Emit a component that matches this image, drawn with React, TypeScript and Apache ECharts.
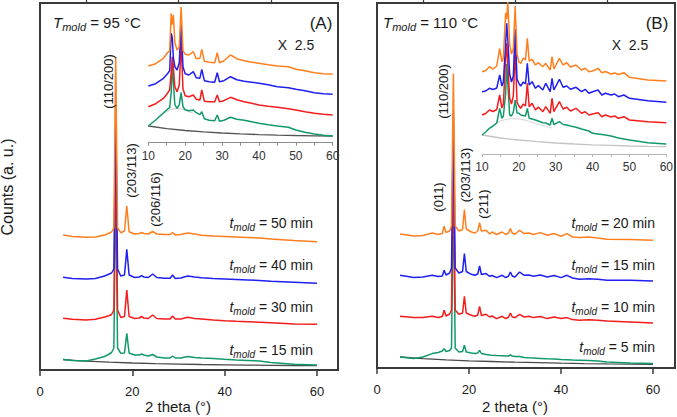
import React, { useEffect, useRef } from 'react';
import * as echarts from 'echarts';

// ---------- Panel A (T_mold = 95 °C) : main patterns ----------
const XA = [5, 7, 10, 12, 14, 15, 15.5, 16, 16.4, 16.8, 17.5, 18.3, 18.8, 19.3, 20.5, 21.5, 22, 22.5, 23.5, 24.4, 25.3, 27, 28.2, 28.7, 29.3, 30.5, 32, 33.5, 35, 37.5, 40, 42.5, 45, 47.5, 50, 55, 60];
const A_15 = [10.5, 9.5, 9, 11, 13.5, 16, 17.5, 22, 190, 22, 16.7, 17, 36.7, 17, 15, 15, 16, 15, 14, 15.5, 13, 12, 12, 14, 12, 12, 13.5, 12.5, 12, 11.5, 10.7, 10, 9.5, 9, 7.5, 5.7, 5];
const A_30 = [51.7, 50.7, 50, 50.7, 53, 54.5, 55.5, 60, 225, 60, 52.5, 53.5, 80, 53.5, 51.5, 52, 53.5, 52, 51.5, 55, 51.5, 51, 51, 54, 51, 51, 52.7, 51.5, 51, 50, 49.3, 48.7, 48.3, 47.8, 47.3, 46, 45.7];
const A_40 = [92.7, 91.5, 91, 91.5, 94, 96, 97, 101, 265, 101, 94, 95, 120.7, 95, 92.5, 93, 94.3, 93, 92.5, 96, 92.5, 91.7, 91.7, 95, 91.5, 92, 94, 93, 92.3, 91.5, 91, 90.5, 90, 89.5, 88.7, 87.7, 86.7];
const A_50 = [135, 133.5, 132.7, 133, 135, 137, 138, 142, 313, 142, 137.3, 139, 164, 138.3, 136, 136.5, 137.5, 136.5, 136, 138.5, 136, 135.5, 135.5, 137.5, 135, 135.5, 137, 136, 134.7, 134, 133.5, 133, 132.5, 132, 131, 129.5, 128.3];
const A_BASE_X = [5, 8, 10, 15, 20, 25, 30, 35, 40, 45, 50, 55, 60];
const A_BASE = [10.5, 9.3, 8.8, 7.8, 7, 6.4, 5.9, 5.5, 5.2, 4.9, 4.7, 4.5, 4.4];

// ---------- Panel A inset (X 2.5) ----------
const XIA = [10, 12, 14, 14.6, 15.2, 15.8, 16.2, 16.5, 16.8, 17.2, 17.8, 18.4, 18.9, 19.4, 20, 21, 22.2, 23, 24, 24.5, 25.2, 26.5, 28, 28.7, 29.3, 30.5, 32.3, 34, 36, 38, 40, 42.5, 45, 48, 50, 52.5, 55, 57.5, 60];
const IA_15 = [16.7, 22.7, 29.4, 31.5, 33.5, 35, 50, 80, 60, 38, 34.4, 38, 50, 36, 33, 32, 32.7, 30, 28, 31, 24, 22.5, 22, 27.7, 21.5, 22.5, 25.4, 23.5, 22.5, 21, 19.4, 18, 16.7, 15.4, 12.7, 10.5, 8.7, 7.5, 6.7];
const IA_30 = [36, 39, 44, 46.5, 49.4, 53, 70, 86, 75, 56, 51, 58, 100, 54, 47, 46, 47.7, 43.5, 42.7, 52.7, 41.5, 41, 41, 47.7, 41, 42, 45.4, 43, 41, 39.5, 37.7, 36.5, 35.4, 34, 32.7, 31, 29.4, 28.5, 27.7];
const IA_40 = [56.7, 59, 64, 66.5, 69, 72, 109.4, 105, 85, 76, 72.7, 80, 118, 76, 69, 67.7, 71, 65, 64.5, 73.4, 62, 61, 60.5, 70, 61, 62, 66, 63, 61.5, 60.5, 59.4, 58, 56, 55, 53.4, 52, 50, 49, 48.4];
const IA_50 = [76.7, 79, 84, 87, 90, 92, 129.4, 118, 127.7, 100, 92.7, 96, 136, 92, 88.5, 87.7, 91, 84, 84.5, 93.4, 81.5, 80.5, 80, 90, 80, 82, 87.7, 84, 82, 80.5, 79.4, 78, 76.7, 76, 73.4, 72, 70, 69, 68.7];
const IA_BASE_X = [10, 15, 20, 25, 30, 35, 40, 45, 50, 55, 60];
const IA_BASE = [16.7, 14, 12.2, 10.8, 9.7, 8.8, 8.1, 7.6, 7.2, 6.9, 6.7];
const IA_HALO_X = [14, 15, 16, 17, 18, 19, 20, 21, 22];
const IA_HALO = [29, 31.5, 33, 34, 34, 33.5, 32.5, 31, 30];

// ---------- Panel B (T_mold = 110 °C) : main patterns ----------
const XB = [5, 8, 10, 12, 13.3, 14.2, 14.6, 15.0, 15.8, 16.2, 16.6, 17.0, 17.8, 18.6, 19, 19.4, 20.5, 21.3, 21.9, 22.3, 22.7, 23.7, 24.5, 25, 26, 27.2, 28, 28.6, 29, 29.4, 30, 31, 32, 33, 34, 35.5, 37, 38.5, 40, 41.3, 42.5, 44, 46, 48, 50, 55, 60];
const B_5 = [11, 9.4, 11, 14.4, 15.5, 17, 19.4, 16.5, 17.5, 20, 175, 20, 16, 16.5, 22.7, 16, 15, 14.5, 15, 17.7, 14.5, 13.5, 13, 12.7, 12.5, 12.3, 12, 12, 13, 12, 11.5, 11.5, 10.5, 10.2, 10, 9.6, 9.2, 9, 8.4, 8.2, 8, 7.8, 7.5, 7, 6, 5, 4.4];
const B_10 = [51.7, 50.4, 50.4, 51.7, 50.5, 51.5, 57.7, 52, 54, 58, 215, 58, 53.7, 55, 71.7, 55, 52.7, 51.7, 53, 61.7, 52.5, 53.7, 51, 52, 49.4, 51.7, 49.4, 51, 55, 51, 50.4, 53.7, 51, 51.7, 50.4, 51.5, 49.4, 51, 49.4, 50.4, 48.4, 47.7, 48.3, 47.7, 47, 46, 45];
const B_15 = [92.7, 90.4, 91, 92.7, 91.5, 92, 97.7, 93, 95, 100, 255, 100, 95, 96.5, 114.4, 96.5, 93.7, 92.7, 94, 102, 93.5, 94.4, 91.7, 92.5, 90.4, 92.7, 90.4, 92, 96, 92, 91, 96, 92.7, 93, 91.7, 93, 91, 92.5, 90.4, 92.7, 90, 88.7, 89.3, 88.7, 87.7, 87.7, 87];
const B_20 = [134, 132, 132.5, 135, 133.5, 134.5, 141.7, 135.5, 137, 142, 294.4, 142, 137, 138.5, 158.4, 139, 136, 135, 137, 145.4, 137, 137.7, 134, 136, 133.5, 136, 133.5, 135, 139.4, 135, 133.7, 137.7, 134.4, 135, 133.5, 135.4, 132.7, 134.4, 131.7, 134.4, 131, 130.4, 131, 130, 128.7, 128.4, 127.7];
const B_BASE_X = [5, 10, 15, 20, 25, 30, 35, 40, 45, 50, 55, 60];
const B_BASE = [11, 9.3, 8.2, 7.2, 6.5, 5.8, 5.3, 4.8, 4.4, 4.1, 3.9, 3.7];

// ---------- Panel B inset (X 2.5) ----------
const XIB = [10, 11, 12, 13, 14, 14.8, 15.4, 15.8, 16.4, 16.7, 17, 17.5, 18, 18.5, 19, 19.5, 20, 20.5, 21.2, 21.8, 22.3, 22.8, 23.6, 24.5, 25.3, 26.5, 27.3, 28.5, 29, 29.5, 31, 32, 33, 34, 35.5, 37, 38, 39, 40, 41.5, 42.5, 43.5, 45, 46, 47, 48.5, 50, 55, 60];
const IB_5 = [19, 22, 25.7, 28, 31, 45.7, 35.7, 38, 60, 90, 70, 39, 38, 42, 54, 41, 40.7, 39, 38.5, 38, 45.7, 35.7, 35, 34, 33, 31.3, 31, 29, 35.7, 29.5, 32.3, 29.5, 29, 28, 26.7, 25, 24, 23, 20.7, 20, 19.5, 19, 18, 17, 16, 15, 14, 11.3, 10];
const IB_10 = [39, 40.5, 44, 42.5, 44.5, 59, 46, 50, 95, 110.7, 90, 56, 50, 58, 105, 52, 48, 45.7, 50, 48, 70.7, 47.3, 50.7, 44, 47, 42.3, 47.3, 40.7, 55.7, 42.3, 52.3, 45, 46.7, 43, 45.7, 40.7, 42.3, 39, 40, 41.3, 37.3, 39, 37, 38, 35.7, 37.3, 34, 32.3, 31.3];
const IB_15 = [62.3, 63, 65.7, 64.5, 66, 79, 68, 72, 110, 130.7, 115, 80, 72, 78, 125, 75, 70.7, 68, 72, 70, 90.7, 69, 72.3, 65.7, 68.5, 64, 70.7, 62.3, 75.7, 64, 74.7, 66.7, 68, 64.7, 66.7, 62.3, 64.7, 60.7, 62.3, 64, 59, 60.7, 59, 60, 57.3, 59, 55.7, 53.3, 51.7];
const IB_20 = [82.3, 83.5, 87.3, 85, 88, 105.7, 92.3, 96, 141, 135, 152, 110, 100, 105, 148, 100, 92, 90.7, 96, 94, 115.7, 93, 94.7, 89, 91.3, 87.3, 90.7, 84, 97.3, 85, 95.7, 89, 91.3, 87, 89, 84, 85.7, 82.3, 83, 85.7, 81.3, 82.5, 80, 81, 79.5, 81.3, 76.7, 74, 73];
const IB_BASE_X = [10, 15, 20, 25, 30, 35, 40, 45, 50, 55, 60];
const IB_BASE = [19, 16, 14, 12.4, 11, 10, 9.2, 8.6, 8, 7.6, 7.3];
const IB_HALO_X = [13, 15, 17, 19, 21, 23, 25, 27, 29];
const IB_HALO = [29, 33, 35, 35.5, 34.5, 32.5, 30, 28, 26];

// ---------- Labels ----------
const TIMES_A = ['15', '30', '40', '50'];
const TIMES_B = ['5', '10', '15', '20'];
const PEAKS_A = ['(110/200)', '(203/113)', '(206/116)'];
const PEAKS_B = ['(110/200)', '(011)', '(203/113)', '(211)'];
const MAJOR_TICKS = [0, 20, 40, 60];
const MINOR_TICKS = [10, 30, 50];

const FF = "'Liberation Sans', Arial, Helvetica, sans-serif";
const C_ORANGE = '#ff7f1e';
const C_BLUE = '#1f1ff2';
const C_RED = '#f41c1c';
const C_GREEN = '#12996a';
const C_FRAME = '#3a3a3a';
const C_TEXT = '#1a1a1a';

function line(xs: number[], ys: number[], color: string, xi: number, yi: number, width = 1.5) {
  return {
    type: 'line',
    data: xs.map((x, i) => [x, ys[i]]),
    xAxisIndex: xi,
    yAxisIndex: yi,
    showSymbol: false,
    symbol: 'none',
    silent: true,
    lineStyle: { color, width },
    itemStyle: { color },
  };
}

function mainX(grid: number, max: number) {
  return [
    {
      type: 'value', gridIndex: grid, min: 0, max, interval: 20,
      axisLine: { show: true, lineStyle: { color: C_FRAME, width: 2 } },
      axisTick: { show: true, customValues: MAJOR_TICKS, length: 6, lineStyle: { color: C_FRAME, width: 1.5 } },
      axisLabel: { show: true, customValues: MAJOR_TICKS, margin: 15, fontSize: 13, color: C_TEXT, fontFamily: FF },
      splitLine: { show: false },
    },
    {
      type: 'value', gridIndex: grid, min: 0, max, interval: 10,
      axisLine: { show: false },
      axisTick: { show: true, customValues: MINOR_TICKS, length: 3.5, lineStyle: { color: C_FRAME, width: 1.2 } },
      axisLabel: { show: false },
      splitLine: { show: false },
    },
  ];
}

function insetX(grid: number, color: string) {
  return {
    type: 'value', gridIndex: grid, min: 10, max: 60, interval: 5,
    axisLine: { show: true, lineStyle: { color, width: 1 } },
    axisTick: { show: true, length: 3, lineStyle: { color, width: 1 } },
    axisLabel: {
      show: true, margin: 7, fontSize: 12, color: '#333', fontFamily: FF,
      formatter: (v: number) => (v % 10 === 0 ? String(v) : ''),
    },
    splitLine: { show: false },
  };
}

function sub(main: string, sub: string, rest: string, size: number, subSize: number, x: number, y: number, align: string) {
  return {
    type: 'text', x, y, z: 10,
    style: {
      text: `{i|${main}}{s|${sub}}{n|${rest}}`,
      rich: {
        i: { fontSize: size, fontStyle: 'italic', lineHeight: size + 1, fontFamily: FF, fill: C_TEXT },
        s: { fontSize: subSize, fontStyle: 'italic', lineHeight: subSize, padding: [9, 0, 0, 0], fontFamily: FF, fill: C_TEXT },
        n: { fontSize: size, lineHeight: size + 1, fontFamily: FF, fill: C_TEXT },
      },
      textAlign: align, textVerticalAlign: 'middle',
    },
  };
}

function txt(text: string, x: number, y: number, size: number, rotate = false) {
  return {
    type: 'text', x, y, z: 10, rotation: rotate ? Math.PI / 2 : 0,
    style: { text, fontSize: size, fontFamily: FF, fill: C_TEXT, textAlign: 'center', textVerticalAlign: 'middle' },
  };
}

export default function App() {
  const ref = useRef<HTMLDivElement>(null);
  useEffect(() => {
    document.body.style.margin = '0';
    const chart = echarts.init(ref.current!, null, { renderer: 'svg' });
    const labelYA = [350, 307, 265, 223];
    const labelYB = [347, 307, 265, 223];
    const option: any = {
      animation: false,
      backgroundColor: '#ffffff',
      grid: [
        { left: 40, top: 3, width: 298, height: 367, show: true, borderColor: C_FRAME, borderWidth: 2, backgroundColor: 'transparent' },
        { left: 148.3, top: 2.7, width: 184.4, height: 140 },
        { left: 377, top: 3, width: 298, height: 365, show: true, borderColor: C_FRAME, borderWidth: 2, backgroundColor: 'transparent' },
        { left: 482, top: 0, width: 184.3, height: 154 },
      ],
      xAxis: [
        ...mainX(0, 64.55),
        insetX(1, '#8c8c8c'),
        ...mainX(2, 64.78),
        insetX(3, '#b5b5b5'),
      ],
      yAxis: [
        { type: 'value', gridIndex: 0, min: 0, max: 367, show: false },
        { type: 'value', gridIndex: 1, min: 0, max: 140, show: false },
        { type: 'value', gridIndex: 2, min: 0, max: 365, show: false },
        { type: 'value', gridIndex: 3, min: 0, max: 154, show: false },
      ],
      series: [
        // panel A main
        line(A_BASE_X, A_BASE, '#4a4a4a', 0, 0, 1.3),
        line(XA, A_15, C_GREEN, 0, 0),
        line(XA, A_30, C_RED, 0, 0),
        line(XA, A_40, C_BLUE, 0, 0),
        line(XA, A_50, C_ORANGE, 0, 0),
        // panel A inset
        line(IA_HALO_X, IA_HALO, '#d4d4d4', 2, 1, 1.2),
        line(IA_BASE_X, IA_BASE, '#555555', 2, 1, 1.3),
        line(XIA, IA_15, C_GREEN, 2, 1),
        line(XIA, IA_30, C_RED, 2, 1),
        line(XIA, IA_40, C_BLUE, 2, 1),
        line(XIA, IA_50, C_ORANGE, 2, 1),
        // panel B main
        line(B_BASE_X, B_BASE, '#4a4a4a', 3, 2, 1.3),
        line(XB, B_5, C_GREEN, 3, 2),
        line(XB, B_10, C_RED, 3, 2),
        line(XB, B_15, C_BLUE, 3, 2),
        line(XB, B_20, C_ORANGE, 3, 2),
        // panel B inset
        line(IB_HALO_X, IB_HALO, '#d8d8d8', 5, 3, 1.2),
        line(IB_BASE_X, IB_BASE, '#c4c4c4', 5, 3, 1.3),
        line(XIB, IB_5, C_GREEN, 5, 3),
        line(XIB, IB_10, C_RED, 5, 3),
        line(XIB, IB_15, C_BLUE, 5, 3),
        line(XIB, IB_20, C_ORANGE, 5, 3),
      ],
      graphic: [
        sub('T', 'mold', ' = 95 °C', 15, 11, 53, 22, 'left'),
        sub('T', 'mold', ' = 110 °C', 15, 11, 383, 22, 'left'),
        txt('(A)', 321, 23, 17),
        txt('(B)', 657, 23, 17),
        txt('X  2.5', 296, 45, 14),
        txt('X  2.5', 630, 45, 14),
        ...TIMES_A.map((t, i) => sub('t', 'mold', ` = ${t} min`, 14, 10, 313, labelYA[i], 'right')),
        ...TIMES_B.map((t, i) => sub('t', 'mold', ` = ${t} min`, 14, 10, 655, labelYB[i], 'right')),
        txt(PEAKS_A[0], 108, 81.5, 13, true),
        txt(PEAKS_A[1], 131, 170.5, 13, true),
        txt(PEAKS_A[2], 155.5, 199.5, 13, true),
        txt(PEAKS_B[0], 443, 91.5, 13, true),
        txt(PEAKS_B[1], 438.5, 197, 13, true),
        txt(PEAKS_B[2], 465, 175, 13, true),
        txt(PEAKS_B[3], 483.5, 204, 13, true),
        txt('Counts (a. u.)', 7.5, 187, 16, true),
        txt('2 theta (°)', 178, 406.5, 15),
        txt('2 theta (°)', 515, 406.5, 15),
      ],
    };
    chart.setOption(option);
    return () => chart.dispose();
  }, []);
  return <div ref={ref} style={{ width: 677, height: 417 }} />;
}
